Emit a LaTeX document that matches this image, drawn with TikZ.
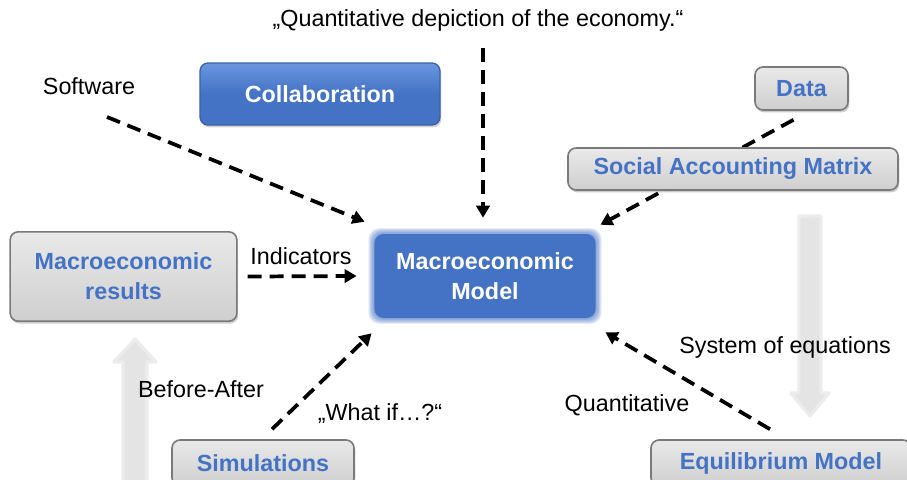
\documentclass[tikz,border=0pt]{standalone}
\usepackage{fontspec}
\setmainfont{Liberation Sans}
\usetikzlibrary{arrows.meta,shadows,backgrounds}
\definecolor{mblue}{HTML}{4472C4}
\definecolor{mbluetop}{HTML}{6A96E0}
\definecolor{mblueedge}{HTML}{3A62A8}
\definecolor{boxtop}{HTML}{E9E9E9}
\definecolor{boxbottom}{HTML}{CFCFCF}
\definecolor{boxedge}{HTML}{7A7A7A}
\definecolor{fatgray}{HTML}{E4E4E4}

\begin{document}
\begin{tikzpicture}[x=0.75pt,y=-0.75pt,
  txt/.style={font=\fontsize{17.5}{22.5}\selectfont, text=black, inner sep=0pt, align=center},
  graybox/.style={draw=boxedge, line width=1.2pt, rounded corners=6pt,
    top color=boxtop, bottom color=boxbottom, text=mblue, align=center,
    font=\fontsize{17.5}{22.5}\selectfont\bfseries,
    drop shadow={shadow xshift=1pt, shadow yshift=-1.8pt, opacity=0.4}},
  bluebox/.style={draw=mblueedge, line width=1pt, rounded corners=6pt,
    top color=mbluetop, bottom color=mblue, middle color=mblue, text=white, align=center,
    font=\fontsize{17.5}{22.5}\selectfont\bfseries,
    drop shadow={shadow xshift=1pt, shadow yshift=-1.8pt, opacity=0.35}},
  softbox/.style={fill=mblue, rounded corners=7pt, text=white, align=center,
    font=\fontsize{17.5}{22.5}\selectfont\bfseries},
  dasharrow/.style={line width=2.8pt, dash pattern=on 10.5pt off 6pt,
    -{Triangle[length=9pt,width=10pt]}},
  fatarrow/.style={fill=fatgray, draw=fatgray!70, line width=2.5pt, line join=round},
]
\useasboundingbox (0,0) rectangle (907,479);
\clip (0,0) rectangle (907,479);

% central model box and surrounding boxes
\node[softbox, minimum width=166pt, minimum height=63pt] (mm) at (485,276) {Macroeconomic\\Model};
\node[bluebox, minimum width=180pt, minimum height=46.5pt] (collab) at (320,94) {Collaboration};
\node[graybox, minimum width=170pt, minimum height=67pt] (mr) at (123.5,276.5) {Macroeconomic\\results};
\node[graybox, minimum width=69.75pt, minimum height=32.25pt] (data) at (801.5,88.5) {Data};
\node[graybox, minimum width=136.5pt, minimum height=34.5pt] (sim) at (263,463) {Simulations};
\node[graybox, minimum width=195pt, minimum height=34.5pt] (eq) at (781,463) {Equilibrium Model};

% free-standing labels
\node[txt] (qd) at (478,20) {„Quantitative depiction of the economy.“};
\node[txt] (sw) at (89,86) {Software};
\node[txt] (ind) at (301,256) {Indicators};
\node[txt] (soe) at (785,347) {System of equations};
\node[txt] (ba) at (201,389) {Before-After};
\node[txt] (wi) at (380,414) {„What if…?“};
\node[txt] (qt) at (627,405) {Quantitative};

% soft edge around the model box and the broad grey arrows
\begin{scope}[on background layer]
  \foreach \e in {0.8,1.6,...,6.4}{
    \fill[mblue, opacity=0.13, rounded corners=8pt]
      ([shift={(-\e,-\e)}]mm.north west) rectangle ([shift={(\e,\e)}]mm.south east);
  }
  % upward arrow: simulations to results
  \fill[fatarrow] (123,490) -- (123,362) -- (114,362) -- (135,339) -- (156,362) -- (147,362) -- (147,490) -- cycle;
  % downward arrow: accounting matrix to equilibrium model
  \fill[fatarrow] (799,216) -- (799,393) -- (791,393) -- (810,416) -- (829,393) -- (821,393) -- (821,216) -- cycle;
\end{scope}

% connector ends
\coordinate (qdS) at ([shift={(0,17)}]qd.south -| 483,0);
\coordinate (mmN) at ([shift={(0,-16)}]mm.north -| 483,0);
\coordinate (swS) at (107,117);
\coordinate (mmNW) at ([shift={(-9.5,-12)}]mm.north west);
\coordinate (dataS) at ([shift={(-8,9)}]data.south);
\coordinate (mmNE) at ([shift={(4.5,-9)}]mm.north east);
\coordinate (mrE) at ([shift={(10,0)}]mr.east);
\coordinate (mmW) at ([shift={(-17.5,0)}]mm.west);
\coordinate (simN) at ([shift={(9,-10)}]sim.north);
\coordinate (mmSW) at ([shift={(-2.5,15)}]mm.south west);
\coordinate (eqN) at ([shift={(-11,-10)}]eq.north);
\coordinate (mmSE) at ([shift={(9.5,14)}]mm.south east);

% dashed connectors into the model
\draw[dasharrow] (qdS) -- (mmN);
\draw[dasharrow] (swS) -- (mmNW);
\draw[dasharrow] (dataS) -- (mmNE);
\draw[dasharrow] (mrE) -- (mmW);
\draw[dasharrow] (simN) -- (mmSW);
\draw[dasharrow] (eqN) -- (mmSE);

% accounting matrix box covers the data connector
\node[graybox, minimum width=247.5pt, minimum height=31.5pt] (sam) at (733,169) {Social Accounting Matrix};
\end{tikzpicture}
\end{document}
